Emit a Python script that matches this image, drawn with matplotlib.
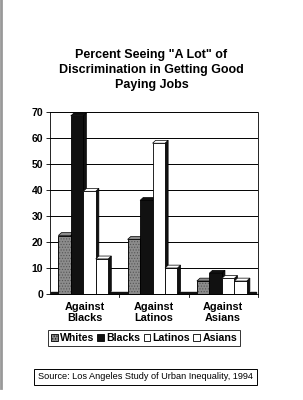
import matplotlib
matplotlib.use("Agg")
import matplotlib.pyplot as plt
from matplotlib.patches import Polygon, Patch
import numpy as np

plt.rcParams['font.family'] = ['Liberation Sans', 'DejaVu Sans']
plt.rcParams['hatch.linewidth'] = 0.5

categories = ["Against\nBlacks", "Against\nLatinos", "Against\nAsians"]
series = ["Whites", "Blacks", "Latinos", "Asians"]
whites = [22.5, 21, 5]
blacks = [68.5, 36, 8]
latinos = [39.5, 58, 6]
asians = [13.5, 10, 5]
values = [whites, blacks, latinos, asians]
face_colors = ["#8c8c8c", "#111111", "white", "white"]
top_colors = ["#8c8c8c", "#111111", "white", "white"]
hatches = ["......", None, None, None]
yticks = [0, 10, 20, 30, 40, 50, 60, 70]

fig = plt.figure(figsize=(3.03, 4.0), dpi=100)
ax = fig.add_axes([0.165, 0.265, 0.686, 0.455])
ax.set_xlim(-0.5, 2.5)
ax.set_ylim(0, 70)

width = 0.18
dx, dy = 0.045, 1.1
x = np.arange(len(categories))
offsets = (np.arange(len(series)) - 1.5) * width - 0.02

# floor strip
ax.fill_between([-0.48, 2.48], 0, 0.7, color="#111111", zorder=1)

for i, (vals, fc, tc, h) in enumerate(zip(values, face_colors, top_colors, hatches)):
    xs = x + offsets[i]
    ec = "#555555" if h else "black"
    bars = ax.bar(xs, vals, width=width, color=fc, edgecolor=ec,
                  linewidth=0.6, hatch=h, zorder=3 + i)
    for b in bars:
        x0 = b.get_x(); x1 = x0 + b.get_width(); hgt = b.get_height()
        if h:
            ax.add_patch(plt.Rectangle((x0, 0), x1 - x0, hgt, fill=False,
                                       edgecolor="black", linewidth=0.6, zorder=3.05 + i))
        side = Polygon([(x1, 0), (x1 + dx, dy), (x1 + dx, hgt + dy), (x1, hgt)],
                       closed=True, facecolor="#111111", edgecolor="black",
                       linewidth=0.5, zorder=2.9 + i)
        top = Polygon([(x0, hgt), (x0 + dx, hgt + dy), (x1 + dx, hgt + dy), (x1, hgt)],
                      closed=True, facecolor=tc, edgecolor="black",
                      linewidth=0.5, zorder=3.1 + i)
        ax.add_patch(side)
        ax.add_patch(top)

ax.set_yticks(yticks)
ax.set_yticklabels([str(v) for v in yticks], fontsize=7.5, fontweight="bold")
ax.yaxis.grid(True, color="black", linewidth=0.7)
ax.set_axisbelow(True)
ax.set_xticks(x)
ax.set_xticklabels(categories, fontsize=7.8, fontweight="bold", linespacing=1.1)
ax.tick_params(axis="x", length=0, pad=6)
ax.tick_params(axis="y", length=3, width=0.6, pad=2)
for s in ["left", "bottom", "right", "top"]:
    ax.spines[s].set_linewidth(0.6)
    ax.spines[s].set_color("black")
ax.spines["top"].set_visible(False)
for bx in [0.5, 1.5, 2.5]:
    ax.plot([bx, bx], [0, -1.2], color="black", linewidth=0.6, clip_on=False)

fig.text(0.5, 0.825, 'Percent Seeing "A Lot" of\nDiscrimination in Getting Good\nPaying Jobs',
         ha="center", va="center", fontsize=9.0, fontweight="bold", linespacing=1.3)

handles = [Patch(facecolor=fc, edgecolor="black", hatch=h, linewidth=0.6)
           for fc, h in zip(face_colors, hatches)]
leg = fig.legend(handles, series, loc="center", bbox_to_anchor=(0.475, 0.155), ncol=4,
                 prop={"size": 7.6, "weight": "bold"}, handlelength=0.65, handleheight=0.65,
                 handletextpad=0.2, columnspacing=0.3, borderpad=0.3, fancybox=False,
                 frameon=True, borderaxespad=0)
leg.get_frame().set_edgecolor("black")
leg.get_frame().set_linewidth(0.7)

fig.text(0.48, 0.058, "Source: Los Angeles Study of Urban Inequality, 1994",
         ha="center", va="center", fontsize=6.6,
         bbox=dict(boxstyle="square,pad=0.4", facecolor="white", edgecolor="black", linewidth=0.7))

fig.add_artist(plt.Line2D([0.004, 0.004], [0.03, 1.0], color="#999999", linewidth=2.0))

fig.savefig("out.png", dpi=100)
